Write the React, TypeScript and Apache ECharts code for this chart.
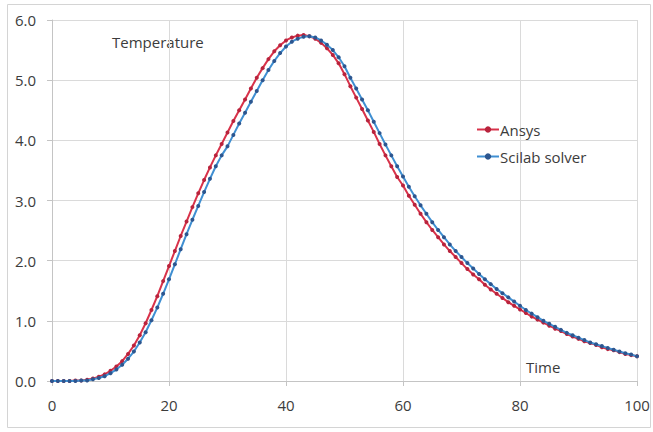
import React, { useEffect, useRef } from "react";
import * as echarts from "echarts";

// Time axis: one sample per time unit, 0..100
const timeSteps: number[] = Array.from({ length: 101 }, (_, i) => i);

// Ansys temperature history
const ansysValues: number[] = [
  0.0, 0.0, 0.0, 0.0, 0.01, 0.01, 0.02, 0.04, 0.07, 0.11,
  0.17, 0.24, 0.33, 0.45, 0.59, 0.76, 0.96, 1.18, 1.41, 1.66,
  1.91, 2.16, 2.41, 2.65, 2.89, 3.12, 3.34, 3.55, 3.75, 3.94,
  4.13, 4.32, 4.5, 4.68, 4.86, 5.04, 5.2, 5.35, 5.48, 5.58,
  5.66, 5.71, 5.74, 5.75, 5.73, 5.69, 5.62, 5.53, 5.42, 5.28,
  5.1, 4.9, 4.71, 4.52, 4.33, 4.14, 3.94, 3.75, 3.57, 3.39,
  3.25, 3.08, 2.93, 2.78, 2.64, 2.51, 2.39, 2.27, 2.16, 2.06,
  1.96, 1.86, 1.77, 1.69, 1.6, 1.52, 1.45, 1.38, 1.31, 1.25,
  1.19, 1.13, 1.07, 1.02, 0.97, 0.92, 0.87, 0.83, 0.78, 0.74,
  0.7, 0.66, 0.63, 0.6, 0.56, 0.53, 0.51, 0.48, 0.45, 0.43,
  0.41,
];

// Scilab solver temperature history
const scilabValues: number[] = [
  0.0, 0.0, 0.0, 0.0, 0.0, 0.01, 0.01, 0.03, 0.05, 0.08,
  0.13, 0.19, 0.27, 0.37, 0.49, 0.64, 0.81, 1.01, 1.22, 1.45,
  1.69, 1.94, 2.19, 2.44, 2.68, 2.91, 3.14, 3.36, 3.57, 3.75,
  3.9, 4.09, 4.28, 4.46, 4.64, 4.82, 5.0, 5.17, 5.32, 5.45,
  5.56, 5.64, 5.69, 5.72, 5.73, 5.71, 5.66, 5.59, 5.5, 5.38,
  5.23, 5.04, 4.86, 4.68, 4.5, 4.31, 4.12, 3.93, 3.75, 3.57,
  3.4, 3.23, 3.07, 2.92, 2.78, 2.64, 2.51, 2.39, 2.27, 2.16,
  2.06, 1.96, 1.87, 1.78, 1.69, 1.61, 1.53, 1.46, 1.39, 1.32,
  1.25, 1.18, 1.12, 1.06, 1.0, 0.95, 0.9, 0.85, 0.8, 0.76,
  0.72, 0.68, 0.64, 0.61, 0.58, 0.55, 0.52, 0.49, 0.46, 0.44,
  0.41,
];

const seriesNames: string[] = ["Ansys", "Scilab solver"];
const xTickLabels: number[] = [0, 20, 40, 60, 80, 100];
const yTickLabels: number[] = [0, 1, 2, 3, 4, 5, 6];

const FONT = "'Open Sans', 'Liberation Sans', sans-serif";
const TEXT = "#3c3c3c";

export default function App() {
  const ref = useRef<HTMLDivElement>(null);

  useEffect(() => {
    if (!ref.current) return;
    const chart = echarts.init(ref.current, undefined, { renderer: "svg" });

    const pairs = (vals: number[]) => timeSteps.map((t, i) => [t, vals[i]]);

    chart.setOption({
      animation: false,
      backgroundColor: "#ffffff",
      textStyle: { fontFamily: FONT },
      grid: { left: 52, right: 16, top: 20, bottom: 51, containLabel: false },
      legend: {
        orient: "vertical",
        left: 476,
        top: 122,
        padding: 0,
        itemWidth: 22,
        itemHeight: 8,
        itemGap: 12,
        data: seriesNames,
        textStyle: { fontFamily: FONT, fontSize: 15, color: TEXT, padding: [0, 0, 0, -4] },
      },
      xAxis: {
        type: "value",
        min: xTickLabels[0],
        max: xTickLabels[xTickLabels.length - 1],
        interval: 20,
        axisLine: { show: true, lineStyle: { color: "#c4c4c4", width: 1 } },
        axisTick: { show: true, length: 5, lineStyle: { color: "#c4c4c4" } },
        axisLabel: { margin: 16, fontSize: 15, color: TEXT, fontFamily: FONT },
        splitLine: { show: true, lineStyle: { color: "#dadada", width: 1 } },
      },
      yAxis: {
        type: "value",
        min: yTickLabels[0],
        max: yTickLabels[yTickLabels.length - 1],
        interval: 1,
        axisLine: { show: true, lineStyle: { color: "#c4c4c4", width: 1 } },
        axisTick: { show: true, length: 5, lineStyle: { color: "#c4c4c4" } },
        axisLabel: {
          margin: 16,
          fontSize: 15,
          color: TEXT,
          fontFamily: FONT,
          formatter: (v: number) => v.toFixed(1),
        },
        splitLine: { show: true, lineStyle: { color: "#dadada", width: 1 } },
      },
      series: [
        {
          name: seriesNames[0],
          type: "line",
          data: pairs(ansysValues),
          symbol: "circle",
          symbolSize: 4,
          showAllSymbol: true,
          lineStyle: { color: "#d8324a", width: 2 },
          itemStyle: { color: "#b8233c" },
          z: 2,
        },
        {
          name: seriesNames[1],
          type: "line",
          data: pairs(scilabValues),
          symbol: "circle",
          symbolSize: 4,
          showAllSymbol: true,
          lineStyle: { color: "#3f8fd2", width: 2 },
          itemStyle: { color: "#2d568f" },
          z: 3,
        },
      ],
      graphic: [
        {
          type: "rect",
          shape: { x: 7.5, y: 4.5, width: 643, height: 423 },
          style: { fill: "none", stroke: "#d4d4d4", lineWidth: 1 },
          silent: true,
        },
        {
          type: "text",
          left: 112,
          top: 34,
          style: { text: "Temperature", fontSize: 15, fontFamily: FONT, fill: TEXT },
        },
        {
          type: "text",
          left: 526,
          top: 359,
          style: { text: "Time", fontSize: 15, fontFamily: FONT, fill: TEXT },
        },
      ],
    });

    return () => chart.dispose();
  }, []);

  return (
    <div
      ref={ref}
      style={{ position: "fixed", left: 0, top: 0, width: 653, height: 432 }}
    />
  );
}
